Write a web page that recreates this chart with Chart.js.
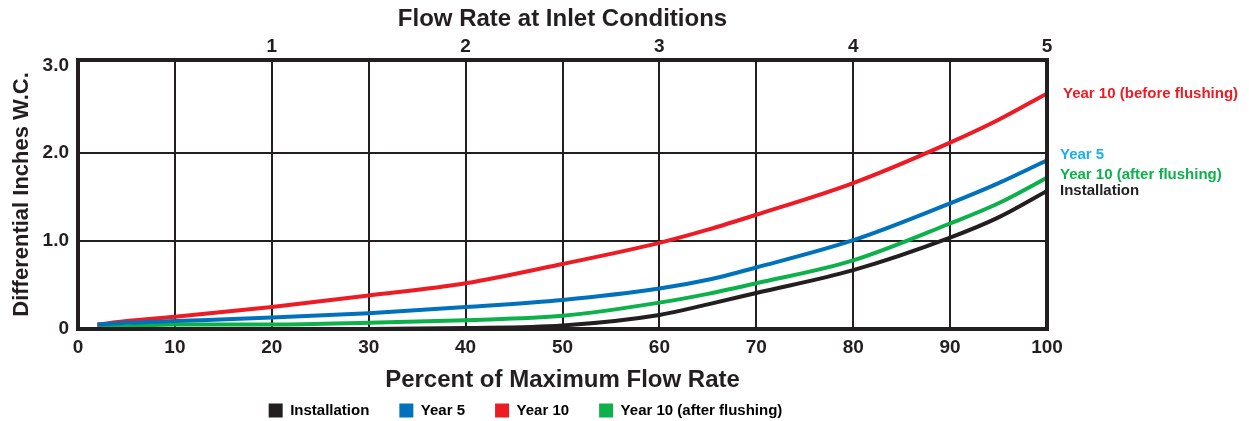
<!DOCTYPE html>
<html>
<head>
<meta charset="utf-8">
<script src="https://cdn.jsdelivr.net/npm/chart.js@4"></script>
<style>
  html, body { margin: 0; padding: 0; background: #fff; }
  #wrap { width: 1249px; height: 421px; }
</style>
</head>
<body>
<div id="wrap"><canvas id="myChart"></canvas></div>
<script>
// percent of max flow rate
const flowPct = [2, 5, 10, 20, 30, 40, 50, 60, 65, 70, 80, 90, 95, 100];
const flowPctInstall = [5, 10, 20, 30, 40, 50, 60, 65, 70, 80, 90, 95, 100];

// differential inches W.C.
const installation = [0.0, 0.0, 0.0, 0.0, 0.01, 0.04, 0.16, 0.28, 0.41, 0.67, 1.04, 1.27, 1.57];
const year5 = [0.05, 0.07, 0.09, 0.13, 0.18, 0.25, 0.33, 0.46, 0.56, 0.70, 1.01, 1.43, 1.66, 1.92];
const year10 = [0.05, 0.09, 0.14, 0.25, 0.38, 0.52, 0.74, 0.98, 1.13, 1.30, 1.66, 2.12, 2.38, 2.68];
const year10Flushed = [0.02, 0.03, 0.05, 0.05, 0.07, 0.10, 0.15, 0.30, 0.40, 0.52, 0.78, 1.20, 1.43, 1.72];

const topTicks = [20, 40, 60, 80, 100];   // inlet flow 1..5
const yTicks = [0, 1, 2, 3];

const INK = '#231f20';
const FONT = "'Liberation Sans', Arial, Helvetica, sans-serif";

const pts = (xs, ys) => xs.map((x, i) => ({ x: x, y: ys[i] }));

// side labels next to the line ends
const sideLabels = [
  { text: 'Year 10 (before flushing)', color: '#ed1c24', value: 2.68, dx: 16 },
  { text: 'Year 5', color: '#1ab0e8', value: 1.98, dx: 13 },
  { text: 'Year 10 (after flushing)', color: '#0db14b', value: 1.75, dx: 13 },
  { text: 'Installation', color: INK, value: 1.57, dx: 13 }
];

const framePlugin = {
  id: 'frame',
  afterDatasetsDraw(chart) {
    const { ctx, chartArea: a } = chart;
    ctx.save();
    ctx.strokeStyle = INK;
    ctx.lineWidth = 4;
    ctx.strokeRect(a.left, a.top, a.right - a.left, a.bottom - a.top);
    const ys = chart.scales.y;
    ctx.font = 'bold 15px ' + FONT;
    ctx.textBaseline = 'middle';
    sideLabels.forEach(l => {
      ctx.fillStyle = l.color;
      ctx.fillText(l.text, a.right + l.dx, ys.getPixelForValue(l.value));
    });
    ctx.restore();
  }
};

const line = (label, data, color) => ({
  label: label,
  data: data,
  borderColor: color,
  backgroundColor: color,
  borderWidth: 4,
  pointRadius: 0,
  cubicInterpolationMode: 'monotone',
  fill: false
});

const ctx = document.getElementById('myChart').getContext('2d');
const myChart = new Chart(ctx, {
  type: 'line',
  data: {
    datasets: [
      line('Installation', pts(flowPctInstall, installation), INK),
      line('Year 5', pts(flowPct, year5), '#0072bc'),
      line('Year 10', pts(flowPct, year10), '#ed1c24'),
      line('Year 10 (after flushing)', pts(flowPct, year10Flushed), '#0db14b')
    ]
  },
  options: {
    responsive: true,
    maintainAspectRatio: false,
    animation: false,
    layout: { padding: { left: 4, right: 202, top: 0, bottom: -7 } },
    plugins: {
      tooltip: { enabled: false },
      legend: {
        position: 'bottom',
        padding: 0,
        labels: {
          color: INK,
          font: { family: FONT, size: 15, weight: 'bold' },
          boxWidth: 14,
          boxHeight: 14,
          padding: 30,
          generateLabels(chart) {
            return chart.data.datasets.map((d, i) => ({
              text: d.label,
              fillStyle: d.borderColor,
              strokeStyle: d.borderColor,
              lineWidth: 0,
              datasetIndex: i
            }));
          }
        }
      }
    },
    scales: {
      x: {
        type: 'linear',
        position: 'bottom',
        min: 0,
        max: 100,
        border: { display: false },
        grid: {
          color: c => (c.tick.value === 0 || c.tick.value === 100) ? 'rgba(0,0,0,0)' : INK,
          lineWidth: 2,
          drawTicks: false
        },
        ticks: {
          stepSize: 10,
          color: INK,
          padding: 7,
          font: { family: FONT, size: 19, weight: 'bold' }
        },
        title: {
          display: true,
          text: 'Percent of Maximum Flow Rate',
          color: INK,
          font: { family: FONT, size: 24, weight: 'bold' },
          padding: { top: 0, bottom: -22 }
        },
        afterFit(axis) { axis.height = 44; }
      },
      x2: {
        type: 'linear',
        position: 'top',
        min: 0,
        max: 100,
        border: { display: false },
        grid: { display: false, drawTicks: false },
        afterBuildTicks(axis) { axis.ticks = topTicks.map(v => ({ value: v })); },
        ticks: {
          color: INK,
          padding: 2,
          font: { family: FONT, size: 19, weight: 'bold' },
          callback: v => String(v / 20)
        },
        title: {
          display: true,
          text: 'Flow Rate at Inlet Conditions',
          color: INK,
          font: { family: FONT, size: 24, weight: 'bold' },
          padding: { top: 5, bottom: 4 }
        },
        afterFit(axis) { axis.height = 60; }
      },
      y: {
        type: 'linear',
        min: 0,
        max: 3.06,
        border: { display: false },
        grid: {
          color: c => (c.tick.value === 1 || c.tick.value === 2) ? INK : 'rgba(0,0,0,0)',
          lineWidth: 2,
          drawTicks: false
        },
        afterBuildTicks(axis) { axis.ticks = yTicks.map(v => ({ value: v })); },
        ticks: {
          color: INK,
          padding: 9,
          font: { family: FONT, size: 19, weight: 'bold' },
          callback: v => v === 0 ? '0' : v.toFixed(1)
        },
        title: {
          display: true,
          text: 'Differential Inches W.C.',
          color: INK,
          font: { family: FONT, size: 22, weight: 'bold' },
          padding: { top: 5, bottom: 2 }
        },
        afterFit(axis) { axis.width = 74; }
      }
    }
  },
  plugins: [framePlugin]
});
</script>
</body>
</html>
